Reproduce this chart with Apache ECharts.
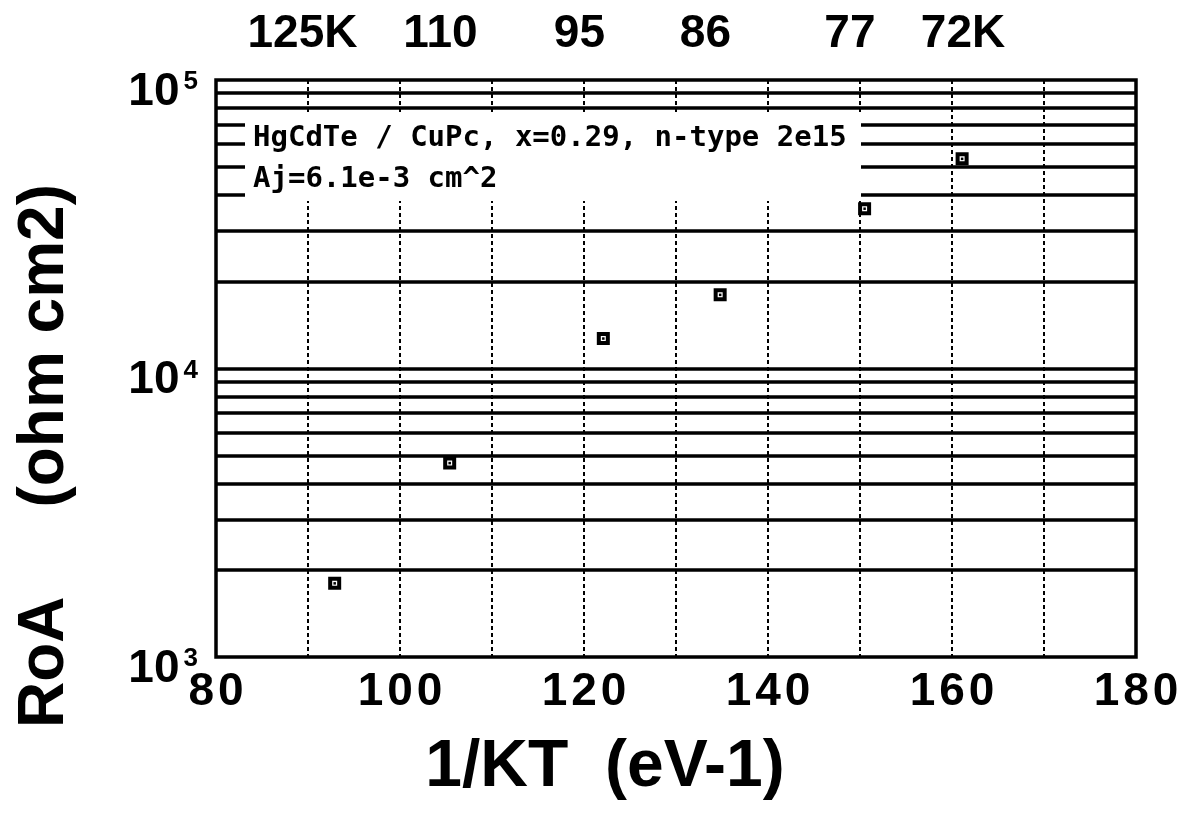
<!DOCTYPE html>
<html>
<head>
<meta charset="utf-8">
<script src="https://cdn.jsdelivr.net/npm/echarts@6/dist/echarts.min.js"></script>
<style>
  html, body { margin: 0; padding: 0; background: #fff; }
  #chart { width: 1200px; height: 817px; }
</style>
</head>
<body>
<div id="chart"></div>
<script>
// Zero-bias resistance-area product versus inverse thermal energy
const invKT = [92.9, 105.4, 122.1, 134.8, 150.5, 161.1];      // 1/kT (eV^-1)
const roa = [1800, 4700, 12700, 18000, 35800, 53300];          // RoA (ohm cm^2)

// Temperature labels along the top edge, at their 1/kT positions
const tempLabels = ['125K', '110', '95', '86', '77', '72K'];
const tempLabelAt = [89.4, 104.4, 119.5, 133.2, 148.9, 161.2];

// Sample description
const noteLines = ['HgCdTe / CuPc, x=0.29, n-type 2e15', 'Aj=6.1e-3 cm^2'];

// Horizontal rulings at 2..9 of each decade plus the middle decade line
const yRulings = [];
[1000, 10000].forEach(function (d) {
  for (let m = 2; m <= 9; m++) yRulings.push(m * d);
});
yRulings.push(10000);

const FONT = '"Liberation Sans", Arial, Helvetica, sans-serif';
const points = invKT.map(function (x, i) { return [x, roa[i]]; });

const chart = echarts.init(document.getElementById('chart'), null, { renderer: 'canvas' });

const grid = { left: 216, right: 64, top: 80, bottom: 160 };

chart.setOption({
  animation: false,
  backgroundColor: '#fff',
  grid: {
    left: grid.left, right: grid.right, top: grid.top, bottom: grid.bottom,
    show: true, borderColor: '#000', borderWidth: 3.5, backgroundColor: 'transparent'
  },
  xAxis: [
    {
      type: 'value', position: 'bottom', min: 80, max: 180, interval: 10,
      axisLine: { show: false }, axisTick: { show: false },
      splitLine: { show: true, lineStyle: { color: '#000', width: 2, type: [4, 3] } },
      axisLabel: {
        margin: 12, color: '#000', fontFamily: FONT, fontWeight: 'bold', fontSize: 46,
        formatter: function (v) {
          return v % 20 === 0 ? String(v).split('').join('\u200A') : '';
        }
      }
    },
    {
      type: 'value', position: 'top', min: 80, max: 180,
      axisLine: { show: false }, axisTick: { show: false }, splitLine: { show: false },
      axisLabel: {
        customValues: tempLabelAt,
        margin: 23, color: '#000', fontFamily: FONT, fontWeight: 'bold', fontSize: 46,
        formatter: function (v) {
          const i = tempLabelAt.indexOf(v);
          return i >= 0 ? tempLabels[i] : '';
        }
      }
    }
  ],
  yAxis: {
    type: 'log', logBase: 10, min: 1000, max: 100000,
    axisLine: { show: false }, axisTick: { show: false }, splitLine: { show: false },
    axisLabel: {
      margin: 18, padding: [24, 0, 0, 0],
      formatter: function (v) {
        return '{b|10}{s|' + Math.round(Math.log10(v)) + '}';
      },
      rich: {
        b: { fontFamily: FONT, fontWeight: 'bold', fontSize: 46, lineHeight: 46, color: '#000' },
        s: { fontFamily: FONT, fontWeight: 'bold', fontSize: 26, lineHeight: 26, color: '#000', verticalAlign: 'top', padding: [0, 0, 0, 4] }
      }
    }
  },
  series: [
    {
      type: 'line', data: [], z: 1, silent: true,
      markLine: {
        silent: true, symbol: ['none', 'none'], animation: false,
        label: { show: false },
        lineStyle: { color: '#000', width: 3.5, type: 'solid' },
        emphasis: { disabled: true },
        data: yRulings.map(function (v) { return { yAxis: v }; })
      }
    },
    {
      type: 'scatter', data: points, z: 5, symbol: 'rect', symbolSize: 9,
      itemStyle: { color: '#fff', borderColor: '#000', borderWidth: 4, opacity: 1 },
      emphasis: { disabled: true }
    },
    {
      type: 'scatter', data: points, z: 6, symbol: 'rect', symbolSize: 2.5,
      itemStyle: { color: '#000', opacity: 1 },
      emphasis: { disabled: true }
    }
  ],
  graphic: [
    {
      type: 'rect', z: 100, silent: true,
      shape: { x: 245, y: 114, width: 616, height: 87 },
      style: { fill: '#fff' }
    },
    {
      type: 'text', z: 101, silent: true, x: 253, y: 124,
      style: {
        text: noteLines[0], fill: '#000', fontFamily: '"DejaVu Sans Mono", monospace',
        fontWeight: 'bold', fontSize: 29, align: 'left', verticalAlign: 'top'
      }
    },
    {
      type: 'text', z: 101, silent: true, x: 253, y: 165,
      style: {
        text: noteLines[1], fill: '#000', fontFamily: '"DejaVu Sans Mono", monospace',
        fontWeight: 'bold', fontSize: 29, align: 'left', verticalAlign: 'top'
      }
    },
    {
      type: 'text', z: 101, silent: true, x: 605, y: 768,
      style: {
        text: '1/KT  (eV-1)', fill: '#000', fontFamily: FONT,
        fontWeight: 'bold', fontSize: 66, align: 'center', verticalAlign: 'middle'
      }
    },
    {
      type: 'text', z: 101, silent: true, x: 45, y: 456, rotation: Math.PI / 2,
      style: {
        text: 'RoA     (ohm cm2)', fill: '#000', fontFamily: FONT,
        fontWeight: 'bold', fontSize: 64, align: 'center', verticalAlign: 'middle'
      }
    }
  ]
});
</script>
</body>
</html>
